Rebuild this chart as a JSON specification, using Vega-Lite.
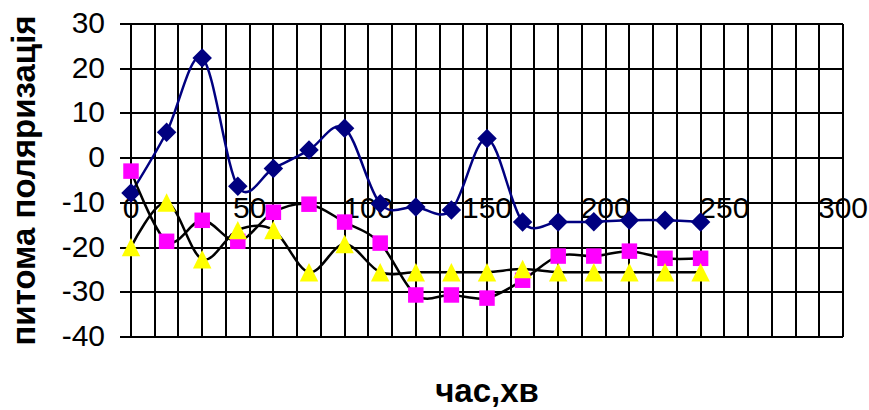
{
  "$schema": "https://vega.github.io/schema/vega-lite/v6.json",
  "width": 712,
  "height": 313,
  "autosize": {"type": "none"},
  "padding": {"left": 131, "top": 24, "right": 26, "bottom": 73},
  "background": "white",
  "config": {
    "view": {"stroke": null},
    "font": "Liberation Sans",
    "axis": {
      "translate": 0,
      "gridColor": "#000000",
      "gridWidth": 2,
      "gridOpacity": 1,
      "labelColor": "#000000",
      "titleColor": "#000000",
      "labelFont": "Liberation Sans",
      "titleFont": "Liberation Sans",
      "labelFontSize": 30,
      "titleFontSize": 33,
      "titleFontWeight": "bold",
      "labelFontWeight": "normal"
    }
  },
  "data": {
    "values": [
      {"t": 0, "series": "A", "v": -7.8},
      {"t": 15, "series": "A", "v": 5.8},
      {"t": 30, "series": "A", "v": 22.4},
      {"t": 45, "series": "A", "v": -6.3},
      {"t": 60, "series": "A", "v": -2.3},
      {"t": 75, "series": "A", "v": 1.8},
      {"t": 90, "series": "A", "v": 6.7},
      {"t": 105, "series": "A", "v": -10.2},
      {"t": 120, "series": "A", "v": -10.9},
      {"t": 135, "series": "A", "v": -11.6},
      {"t": 150, "series": "A", "v": 4.4},
      {"t": 165, "series": "A", "v": -14.3},
      {"t": 180, "series": "A", "v": -14.3},
      {"t": 195, "series": "A", "v": -14.2},
      {"t": 210, "series": "A", "v": -13.9},
      {"t": 225, "series": "A", "v": -13.9},
      {"t": 240, "series": "A", "v": -14.3},
      {"t": 0, "series": "B", "v": -2.9},
      {"t": 15, "series": "B", "v": -18.6},
      {"t": 30, "series": "B", "v": -13.9},
      {"t": 45, "series": "B", "v": -18.6},
      {"t": 60, "series": "B", "v": -12.1},
      {"t": 75, "series": "B", "v": -10.3},
      {"t": 90, "series": "B", "v": -14.3},
      {"t": 105, "series": "B", "v": -19.0},
      {"t": 120, "series": "B", "v": -30.6},
      {"t": 135, "series": "B", "v": -30.6},
      {"t": 150, "series": "B", "v": -31.3},
      {"t": 165, "series": "B", "v": -27.3},
      {"t": 180, "series": "B", "v": -21.9},
      {"t": 195, "series": "B", "v": -21.9},
      {"t": 210, "series": "B", "v": -20.8},
      {"t": 225, "series": "B", "v": -22.4},
      {"t": 240, "series": "B", "v": -22.4},
      {"t": 0, "series": "C", "v": -19.9},
      {"t": 15, "series": "C", "v": -9.9},
      {"t": 30, "series": "C", "v": -22.6},
      {"t": 45, "series": "C", "v": -16.1},
      {"t": 60, "series": "C", "v": -16.1},
      {"t": 75, "series": "C", "v": -25.5},
      {"t": 90, "series": "C", "v": -19.2},
      {"t": 105, "series": "C", "v": -25.5},
      {"t": 120, "series": "C", "v": -25.5},
      {"t": 135, "series": "C", "v": -25.5},
      {"t": 150, "series": "C", "v": -25.5},
      {"t": 165, "series": "C", "v": -24.8},
      {"t": 180, "series": "C", "v": -25.5},
      {"t": 195, "series": "C", "v": -25.5},
      {"t": 210, "series": "C", "v": -25.5},
      {"t": 225, "series": "C", "v": -25.5},
      {"t": 240, "series": "C", "v": -25.5}
    ]
  },
  "encoding": {
    "x": {
      "field": "t",
      "type": "quantitative",
      "scale": {"domain": [0, 300], "nice": false, "zero": false},
      "axis": {
        "title": "час,хв",
        "values": [0, 10, 20, 30, 40, 50, 60, 70, 80, 90, 100, 110, 120, 130, 140, 150, 160, 170, 180, 190, 200, 210, 220, 230, 240, 250, 260, 270, 280, 290, 300],
        "labelExpr": "datum.value % 50 === 0 ? '' + datum.value : ''",
        "grid": true,
        "domain": false,
        "ticks": false,
        "offset": -133,
        "labelPadding": 14,
        "labelBaseline": "alphabetic",
        "labelAlign": "center",
        "labelFlush": false,
        "labelOverlap": false,
        "titleBaseline": "alphabetic",
        "titleY": 198
      }
    },
    "y": {
      "field": "v",
      "type": "quantitative",
      "scale": {"domain": [-40, 30], "nice": false, "zero": false},
      "axis": {
        "title": "питома поляризація",
        "values": [-40, -30, -20, -10, 0, 10, 20, 30],
        "labelExpr": "'' + datum.value",
        "grid": true,
        "domain": false,
        "ticks": true,
        "tickSize": 11,
        "tickWidth": 2,
        "tickColor": "#000000",
        "labelPadding": 15,
        "labelBaseline": "middle",
        "labelFlush": false,
        "labelOverlap": false,
        "titleBaseline": "alphabetic",
        "titleX": -96,
        "titleY": 156.5,
        "titleAngle": 270
      }
    }
  },
  "layer": [
    {
      "transform": [{"filter": "datum.series === 'A'"}],
      "mark": {"type": "line", "interpolate": "cardinal", "color": "#000080", "strokeWidth": 2.5}
    },
    {
      "transform": [{"filter": "datum.series === 'A'"}],
      "mark": {"type": "point", "shape": "M0,-1L1,0L0,1L-1,0Z", "filled": true, "size": 380, "color": "#000080", "opacity": 1}
    },
    {
      "transform": [{"filter": "datum.series === 'B'"}],
      "mark": {"type": "line", "interpolate": "cardinal", "color": "#000000", "strokeWidth": 2.5}
    },
    {
      "transform": [{"filter": "datum.series === 'B'"}],
      "mark": {"type": "point", "shape": "square", "filled": true, "size": 240, "color": "#FF00FF", "opacity": 1}
    },
    {
      "transform": [{"filter": "datum.series === 'C'"}],
      "mark": {"type": "line", "interpolate": "cardinal", "color": "#000000", "strokeWidth": 2.5}
    },
    {
      "transform": [{"filter": "datum.series === 'C'"}],
      "mark": {"type": "point", "shape": "M0,-1L1,1L-1,1Z", "filled": true, "size": 340, "color": "#FFFF00", "opacity": 1}
    }
  ]
}
